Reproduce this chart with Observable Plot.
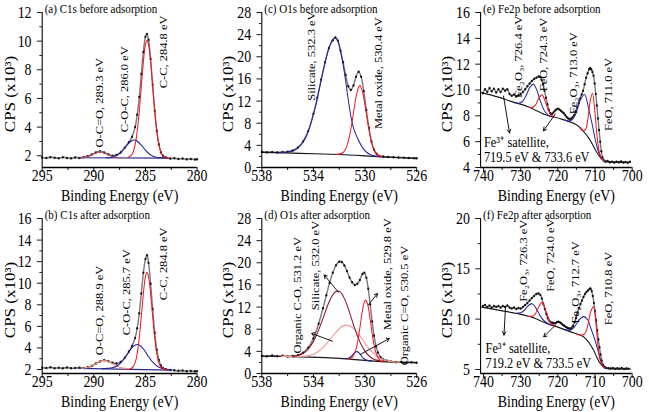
<!DOCTYPE html>
<html><head><meta charset="utf-8">
<script src="https://cdn.jsdelivr.net/npm/d3@7"></script>
<script src="https://cdn.jsdelivr.net/npm/@observablehq/plot@0.6"></script>
<style>
html,body{margin:0;padding:0;background:#fff;overflow:hidden;}
#wrap{position:relative;width:792px;height:412px;transform:scaleX(0.8194);transform-origin:0 0;}
.panel{position:absolute;}
</style></head><body><div id="wrap"></div>
<script>
// ---------------- DATA (binding energy eV, CPS x10^3) ----------------
// (a) C1s before adsorption
const aExp = [[295,1.88],[294.6,1.84],[294.2,1.9],[293.8,1.86],[293.4,1.83],[293,1.89],[292.6,1.85],[292.2,1.82],[291.8,1.88],[291.4,1.85],[291,1.9],[290.6,1.97],[290.2,2.08],[289.8,2.22],[289.4,2.3],[289,2.22],[288.6,2.1],[288.2,2.0],[287.8,2.06],[287.4,2.22],[287,2.56],[286.6,2.95],[286.3,3.32],[286,4.0],[285.8,4.87],[285.6,6.1],[285.4,7.7],[285.2,9.25],[285,10.3],[284.85,10.5],[284.7,10.1],[284.5,8.75],[284.3,6.95],[284.1,5.15],[283.9,3.75],[283.7,2.8],[283.5,2.25],[283.3,2.0],[283,1.88],[282.6,1.8],[282.2,1.83],[281.8,1.78],[281.4,1.8],[281,1.75],[280.6,1.78],[280.2,1.73],[280,1.76]];
const aCC = [[286.7,1.88],[286.4,2.01],[286.2,2.25],[286,2.77],[285.8,3.7],[285.6,5.09],[285.45,6.37],[285.3,7.72],[285.15,8.92],[285,9.75],[284.85,10.05],[284.7,9.75],[284.55,8.92],[284.4,7.72],[284.25,6.37],[284.1,5.09],[283.9,3.7],[283.7,2.77],[283.5,2.25],[283.3,2.01],[283,1.87],[282.8,1.85]];
const aCOC = [[288.8,1.86],[288.4,1.88],[288,1.95],[287.6,2.11],[287.2,2.39],[286.8,2.74],[286.4,3.02],[286.1,3.1],[285.8,3.02],[285.4,2.74],[285,2.39],[284.6,2.11],[284.2,1.95],[283.8,1.88],[283.4,1.86],[283,1.85]];
const aOCO = [[291.2,1.87],[290.8,1.91],[290.4,2.0],[290,2.14],[289.7,2.23],[289.4,2.27],[289.1,2.23],[288.8,2.14],[288.4,2.0],[288,1.91],[287.6,1.87]];
const aBase = [[291.5,1.86],[282.8,1.84]];

// (b) C1s after adsorption
const bExp = [[295,2.17],[294.6,2.13],[294.2,2.2],[293.8,2.12],[293.4,2.16],[293,2.11],[292.6,2.18],[292.2,2.12],[291.8,2.14],[291.4,2.17],[291,2.13],[290.6,2.2],[290.2,2.33],[289.8,2.55],[289.4,2.75],[289,2.86],[288.6,2.77],[288.2,2.62],[287.8,2.56],[287.4,2.7],[287,3.09],[286.6,3.67],[286.3,4.18],[286,4.93],[285.8,5.82],[285.6,7.21],[285.4,9.05],[285.2,10.96],[285,12.25],[284.85,12.6],[284.7,11.9],[284.5,9.96],[284.3,7.6],[284.1,5.4],[283.9,3.83],[283.7,2.88],[283.5,2.37],[283.3,2.13],[283,2.02],[282.6,1.95],[282.2,1.92],[281.8,1.88],[281.4,1.9],[281,1.85],[280.6,1.87],[280.2,1.83],[280,1.84]];
const bCC = [[286.7,2.02],[286.5,2.04],[286.2,2.23],[286,2.64],[285.8,3.48],[285.6,4.92],[285.45,6.38],[285.3,8.0],[285.15,9.52],[285,10.6],[284.85,11.0],[284.7,10.6],[284.55,9.52],[284.4,8.0],[284.25,6.38],[284.1,4.92],[283.9,3.48],[283.7,2.64],[283.5,2.23],[283.2,2.04],[282.9,1.98]];
const bCOC = [[289.2,2.08],[288.7,2.1],[288.2,2.16],[287.7,2.36],[287.2,2.82],[286.8,3.35],[286.4,3.91],[286.1,4.21],[285.8,4.32],[285.5,4.21],[285.2,3.91],[284.8,3.34],[284.4,2.8],[283.9,2.33],[283.4,2.1],[282.9,2.0],[282.5,1.97]];
const bOCO = [[291.2,2.11],[290.7,2.17],[290.2,2.33],[289.8,2.54],[289.4,2.74],[289,2.83],[288.6,2.74],[288.2,2.54],[287.8,2.33],[287.3,2.15],[286.8,2.09]];
const bBase = [[291.5,2.1],[282.5,1.95]];

// (c) O1s before adsorption
const cExp = [[538,2.82],[537.6,2.75],[537.2,2.8],[536.8,2.72],[536.4,2.78],[536,2.85],[535.6,3.05],[535.2,3.6],[534.8,4.7],[534.4,6.6],[534,9.7],[533.7,12.6],[533.4,15.9],[533.1,19.0],[532.8,21.6],[532.5,23.0],[532.3,23.5],[532.1,22.9],[531.9,21.1],[531.7,19.0],[531.5,16.7],[531.3,14.7],[531.1,14.0],[530.9,14.8],[530.7,16.4],[530.5,17.3],[530.3,16.4],[530.1,13.8],[529.9,10.4],[529.7,7.2],[529.5,4.7],[529.3,3.2],[529.1,2.45],[528.9,2.1],[528.6,1.98],[528.2,1.9],[527.8,1.85],[527.4,1.8],[527,1.76],[526.6,1.7],[526.2,1.68],[526,1.66]];
const cSilicate = [[536.6,2.7],[536,2.8],[535.5,3.1],[535,4.0],[534.5,5.9],[534,9.6],[533.7,12.45],[533.4,15.75],[533.1,18.9],[532.8,21.5],[532.5,23.1],[532.3,23.35],[532.1,22.75],[531.9,21.0],[531.7,18.6],[531.5,15.6],[531.3,12.2],[531.1,9.3],[530.9,7.2],[530.7,5.9],[530.5,4.9],[530.3,4.0],[530.1,3.3],[529.9,2.8],[529.6,2.35],[529.2,2.05],[528.8,1.95]];
const cOxide = [[532.2,2.36],[531.9,2.48],[531.7,2.7],[531.5,3.35],[531.3,4.75],[531.1,6.9],[530.9,9.8],[530.7,12.7],[530.5,14.5],[530.4,14.8],[530.3,14.45],[530.1,12.6],[529.9,9.7],[529.7,6.8],[529.5,4.55],[529.3,3.1],[529.1,2.4],[528.9,2.1],[528.7,1.95]];
const cBase = [[538,2.75],[535,2.55],[532,2.35],[530,2.1],[529,1.95],[528,1.85],[526,1.65]];

// (d) O1s after adsorption
const dExp = [[538,3.2],[537.6,3.1],[537.2,3.25],[536.8,3.12],[536.4,3.2],[536,3.08],[535.6,3.18],[535.2,3.3],[534.8,3.74],[534.4,4.67],[534,6.36],[533.6,8.97],[533.26,11.8],[533,14.15],[532.75,16.34],[532.5,18.2],[532.25,19.56],[532,20.2],[531.8,20.15],[531.6,19.5],[531.4,18.5],[531.2,17.35],[531,16.5],[530.8,16.0],[530.6,16.2],[530.4,16.9],[530.2,17.98],[530.05,18.2],[529.9,17.3],[529.75,15.3],[529.6,12.46],[529.45,9.4],[529.3,6.8],[529.15,4.9],[529,3.8],[528.8,2.93],[528.6,2.55],[528.3,2.3],[528,2.15],[527.6,2.05],[527.2,2.08],[526.8,1.98],[526.4,2.02],[526,1.96]];
const dSilicate = [[535.6,3.05],[535.2,3.25],[534.8,3.63],[534.4,4.4],[534,5.8],[533.6,7.85],[533.2,10.36],[532.8,12.85],[532.5,14.2],[532.25,14.8],[532.1,14.9],[531.9,14.7],[531.7,14.0],[531.5,13.0],[531.3,11.75],[531.1,10.3],[530.9,8.86],[530.7,7.5],[530.5,6.28],[530.3,5.23],[530.1,4.37],[529.9,3.7],[529.7,3.2],[529.5,2.84],[529.3,2.57],[529,2.36],[528.7,2.17]];
const dOrgCO = [[536.5,3.1],[536,3.08],[535.5,3.06],[535,3.1],[534.5,3.16],[534,3.48],[533.5,4.2],[533,5.35],[532.5,6.8],[532,8.1],[531.7,8.6],[531.4,8.75],[531.1,8.5],[530.8,7.97],[530.5,7.15],[530.3,6.45],[530,5.5],[529.8,4.8],[529.5,4.03],[529.3,3.52],[529,3.0],[528.8,2.72],[528.3,2.3],[527.8,2.1],[527.3,2.05]];
const dOxide = [[531.3,2.65],[531,2.9],[530.8,3.66],[530.6,5.4],[530.4,8.25],[530.2,11.37],[530.05,12.93],[529.95,13.25],[529.8,12.5],[529.6,9.73],[529.4,6.5],[529.2,4.1],[529,2.85],[528.8,2.34],[528.6,2.14]];
const dOrgCdO = [[531.5,2.7],[531.3,2.76],[531.1,3.02],[530.9,3.53],[530.75,3.87],[530.63,3.95],[530.5,3.79],[530.3,3.22],[530.1,2.69],[529.9,2.42],[529.7,2.31],[529.5,2.27]];
const dBase = [[538,3.15],[535,3.0],[533,2.85],[532,2.75],[531,2.55],[530,2.37],[529,2.2],[528,2.08],[526,1.95]];

// (e) Fe2p before adsorption
const eExp = [[740.2,9.75],[739.6,10.05],[739,9.85],[738.4,10.15],[737.8,9.9],[737.2,10.1],[736.6,9.8],[736,10.05],[735.4,9.85],[734.8,10.1],[734.2,9.95],[733.6,10.05],[733,9.7],[732.4,9.55],[731.8,9.65],[731.2,9.5],[730.6,9.6],[730,9.7],[729.4,9.85],[728.8,10.05],[728.2,10.3],[727.6,10.5],[727,10.7],[726.4,10.85],[725.8,10.95],[725.2,11.05],[724.8,11.0],[724.4,10.8],[724,10.45],[723.6,9.95],[723.2,9.4],[722.8,8.9],[722.4,8.45],[722,8.2],[721.6,8.15],[721.2,8.25],[720.8,8.4],[720.4,8.5],[720,8.55],[719.6,8.5],[719.2,8.4],[718.8,8.3],[718.4,8.2],[718,8.05],[717.6,7.9],[717.2,7.8],[716.8,7.75],[716.4,7.8],[716,7.9],[715.6,8.05],[715.2,8.35],[714.8,8.65],[714.4,9.0],[714,9.35],[713.6,9.65],[713.2,9.95],[712.8,10.45],[712.4,10.95],[712,11.3],[711.6,11.6],[711.3,11.7],[711,11.6],[710.7,11.4],[710.4,11.1],[710.1,10.5],[709.8,9.7],[709.5,8.8],[709.2,7.8],[708.9,6.9],[708.6,6.0],[708.3,5.25],[708,4.8],[707.6,4.55],[707.2,4.45],[706.6,4.5],[706,4.4],[705.4,4.45],[704.8,4.38],[704.2,4.45],[703.6,4.4],[703,4.47],[702.4,4.38],[701.8,4.42],[701.2,4.36],[700.6,4.44]];
const eFe2O3a = [[731.5,9.01],[730.5,8.97],[729.5,9.11],[728.5,9.6],[727.5,10.22],[726.6,10.45],[725.7,10.02],[724.7,9.15],[723.7,8.43],[722.7,8.07],[721.7,7.93]];
const eFeOa = [[727.6,8.66],[726.8,8.65],[726,8.85],[725.2,9.33],[724.3,9.62],[723.4,9.13],[722.6,8.44],[721.8,8.06],[721,7.9]];
const eFe2O3b = [[718,7.66],[717,7.6],[716,7.75],[715,8.3],[714,9.2],[712.8,9.65],[711.8,8.65],[710.8,7.4],[709.8,6.0],[708.8,5.0],[707.8,4.6],[707,4.5]];
const eFeOb = [[714,7.04],[713.2,6.83],[712.5,6.97],[711.9,7.8],[711.3,9.14],[710.7,9.75],[710.1,8.5],[709.5,6.6],[708.9,5.26],[708.2,4.67],[707.5,4.5]];
const eBase = [[740.5,9.8],[736,9.45],[732.4,9.1],[728,8.7],[723.5,8.1],[719,7.75],[714.7,7.25],[712,6.4],[710.5,5.7],[709.6,5.2],[708.5,4.75],[707.5,4.5],[705,4.42],[700.5,4.4]];

// (f) Fe2p after adsorption
const fExp = [[740.2,11.3],[739.6,11.4],[739,11.2],[738.4,11.35],[737.8,11.15],[737.2,11.3],[736.6,11.2],[736,11.3],[735.4,11.15],[734.8,11.3],[734.2,11.2],[733.6,11.35],[733,11.15],[732.4,11.05],[731.8,11.15],[731.2,11.0],[730.6,11.1],[730,11.05],[729.4,11.2],[728.8,11.4],[728.2,11.6],[727.6,11.85],[727,12.1],[726.4,12.3],[725.8,12.5],[725.2,12.55],[724.7,12.4],[724.3,12.05],[723.9,11.5],[723.5,11.0],[723.1,10.5],[722.7,10.1],[722.3,9.85],[721.9,9.7],[721.5,9.65],[721.1,9.6],[720.7,9.6],[720.3,9.7],[719.9,9.75],[719.5,9.7],[719.1,9.6],[718.7,9.45],[718.3,9.35],[717.9,9.25],[717.5,9.15],[717.1,9.1],[716.7,9.05],[716.3,9.15],[715.9,9.35],[715.5,9.7],[715.1,10.15],[714.7,10.65],[714.3,11.1],[713.9,11.5],[713.5,11.85],[713.1,12.2],[712.7,12.5],[712.3,12.7],[711.9,12.85],[711.5,13.0],[711.2,13.05],[710.9,12.8],[710.6,12.3],[710.3,11.6],[710,10.8],[709.7,9.9],[709.4,8.9],[709.1,8.0],[708.8,7.2],[708.5,6.5],[708.2,5.9],[707.8,5.45],[707.4,5.25],[707,5.15],[706.4,5.12],[705.8,5.1],[705.2,5.14],[704.6,5.06],[704,5.12],[703.4,5.08],[702.8,5.14],[702.2,5.05],[701.6,5.1],[701,5.06]];
const fFe2O3a = [[731,10.59],[730,10.64],[729,10.89],[728,11.33],[726.9,11.53],[725.8,11.04],[724.8,10.36],[723.8,9.86],[722.8,9.58],[721.8,9.4]];
const fFeOa = [[727.8,10.28],[727,10.28],[726.2,10.45],[725.4,11.02],[724.24,11.66],[723.1,10.68],[722.3,9.87],[721.5,9.46],[720.7,9.29]];
const fFe2O3b = [[718.5,9.0],[717.5,8.91],[716.5,8.94],[715.5,9.25],[714.3,9.91],[713.1,10.25],[712,9.95],[711.3,9.3],[710.6,8.55],[710,7.9],[709.1,6.75],[708.2,5.6],[707.5,5.2],[706.8,5.1]];
const fFeOb = [[714.9,8.5],[714,8.42],[713.2,8.44],[712.5,8.7],[711.9,9.45],[711.2,10.7],[710.4,11.22],[709.8,9.7],[709.2,7.4],[708.6,5.94],[708,5.35],[707.4,5.15]];
const fBase = [[740.5,11.2],[736,10.9],[731,10.56],[727,10.2],[723,9.57],[720,9.2],[716.6,8.74],[713.1,8.25],[711.5,7.6],[710.4,6.92],[709.5,6.2],[708.6,5.6],[707.6,5.2],[706.8,5.1],[703,5.05],[700.5,5.05]];

// axis ticks
const xTicksC1s = [295, 290, 285, 280], xMinorC1s = [292.5, 287.5, 282.5];
const xTicksO1s = [538, 534, 530, 526], xMinorO1s = [536, 532, 528];
const xTicksFe = [740, 730, 720, 710, 700], xMinorFe = [735, 725, 715, 705];
const yTicksA = [2, 4, 6, 8, 10, 12], yMinorA = [3, 5, 7, 9, 11];
const yTicksB = [2, 4, 6, 8, 10, 12, 14, 16], yMinorB = [3, 5, 7, 9, 11, 13, 15];
const yTicksO = [0, 4, 8, 12, 16, 20, 24, 28], yMinorO = [2, 6, 10, 14, 18, 22, 26];
const yTicksE = [4, 6, 8, 10, 12, 14, 16], yMinorE = [5, 7, 9, 11, 13, 15];
const yTicksF = [5, 10, 15, 20], yMinorF = [7.5, 12.5, 17.5];

// peak labels: [text, eV, CPS]
const aNotes = [["O-C=O, 289.3 eV", 289.4, 2.58], ["C-O-C, 286.0 eV", 287.0, 3.64], ["C-C, 284.8 eV", 283.27, 6.71]];
const bNotes = [["O-C=O, 288.9 eV", 289.4, 3.33], ["C-O-C, 285.7 eV", 286.83, 5.18], ["C-C, 284.8 eV", 283.27, 8.43]];
const cNotes = [["Silicate, 532.3 eV", 534.1, 12.05], ["Metal oxide, 530.4 eV", 528.93, 6.94]];
const dNotes = [["Organic C-O, 531.2 eV", 535.24, 3.61], ["Silicate, 532.0 eV", 533.82, 11.43], ["Metal oxide, 529.8 eV", 528.25, 7.82], ["Organic C=O, 530.5 eV", 526.96, 1.5]];
const eNotes = [["Fe\u2082O\u2083, 726.4 eV", 730.52, 9.39], ["FeO, 724.3 eV", 723.8, 9.91], ["Fe\u2082O\u2083, 713.0 eV", 715.75, 8.12], ["FeO, 711.0 eV", 706.36, 6.83]];
const fNotes = [["Fe\u2082O\u2083, 726.3 eV", 729.18, 11.72], ["FeO, 724.0 eV", 722.02, 12.71], ["Fe\u2082O\u2083, 712.7 eV", 715.31, 9.57], ["FeO, 710.8 eV", 706.36, 9.4]];
const eSat = [["Fe\u00B3\u207A satellite,", 739.9, 5.98], ["719.5 eV & 733.6 eV", 739.9, 4.77]];
const fSat = [["Fe\u00B3\u207A satellite,", 739.46, 7.09], ["719.2 eV & 733.5 eV", 739.46, 5.6]];
// pointer lines: [from eV, from CPS, to eV, to CPS]
const dArrows = [[532.52, 5.83, 534.13, 7.23], [532.06, 14.68, 533.17, 17.8], [529.73, 12.46, 529.03, 14.45], [530.37, 3.43, 528.12, 6.32]];
const eArrows = [[734.63, 9.53, 733.0, 6.67], [720.7, 8.14, 723.9, 6.83]];
const fArrows = [[734.1, 11.16, 734.5, 8.41], [720.7, 9.4, 723.8, 8.24]];

// ---------------- DRAWING ----------------
const FONT = "'Liberation Serif', 'Times New Roman', serif";
const RED = "#f0141e", BLUE = "#23239c", NAVY = "#2a2a8c", BLACK = "#151515",
      DARKRED = "#8c1022", SALMON = "#f5938c", PINK = "#c0505c", ORANGE = "#f0957c";
const fx = d => d[0], fy = d => d[1];
const wrap = document.getElementById("wrap");

function panel(o) {
  const curveMarks = o.curves.map(c => Plot.line(c[0], {x: fx, y: fy, stroke: c[1], strokeWidth: c[2] || 1.2, curve: "catmull-rom"}));
  const marks = [
    Plot.line(o.exp, {x: fx, y: fy, stroke: "#7a7a7a", strokeWidth: 1.7, curve: "catmull-rom"}),
    Plot.dot(o.exp, {x: fx, y: fy, r: 1.25, fill: "#111"}),
    ...curveMarks,
    Plot.ruleX([o.xDomain[0]], {stroke: "#000", strokeWidth: 1.3}),
    Plot.ruleY([o.yDomain[0]], {stroke: "#000", strokeWidth: 1.3}),
    Plot.axisY({ticks: o.yTicks, tickSize: 6, tickPadding: 7, fontSize: 17, label: null}),
    Plot.axisY({ticks: o.yMinor, tickSize: 3, tickFormat: () => "", label: null}),
    Plot.axisX({ticks: o.xTicks, tickSize: 5, tickPadding: -4, fontSize: 17, label: null}),
    Plot.axisX({ticks: o.xMinor, tickSize: 3, tickFormat: () => "", label: null}),
    Plot.text([o.title], {frameAnchor: "top-left", textAnchor: "start", lineAnchor: "bottom", dx: 3, dy: 0, fontSize: 13.5}),
    Plot.text(["CPS (x10\u00B3)"], {frameAnchor: "left", textAnchor: "middle", lineAnchor: "middle", dx: o.yLabelDx, dy: 4, rotate: -90, fontSize: 17}),
    Plot.text(["Binding Energy (eV)"], {frameAnchor: "bottom", textAnchor: "middle", lineAnchor: "bottom", dy: 33, fontSize: 17}),
    Plot.text(o.notes, {x: d => d[1], y: d => d[2], text: d => d[0], rotate: -90, textAnchor: "start", fontSize: 12.5})
  ];
  if (o.arrows) marks.push(Plot.arrow(o.arrows, {x1: d => d[0], y1: d => d[1], x2: d => d[2], y2: d => d[3], stroke: "#000", strokeWidth: 1, headLength: 6}));
  if (o.sat) marks.push(Plot.text(o.sat, {x: d => d[1], y: d => d[2], text: d => d[0], textAnchor: "start", fontSize: 15}));
  const svg = Plot.plot({
    width: 264, height: 206,
    marginLeft: o.ml, marginRight: o.mr, marginTop: 12, marginBottom: 39,
    x: {domain: o.xDomain, label: null},
    y: {domain: o.yDomain, label: null},
    style: {fontFamily: FONT, fontSize: "17px", color: "#000", background: "transparent", overflow: "visible"},
    marks
  });
  const div = document.createElement("div");
  div.className = "panel";
  div.style.left = o.left + "px";
  div.style.top = o.top + "px";
  div.append(svg);
  wrap.append(div);
}

panel({left: 0, top: 0, ml: 51, mr: 24, xDomain: [295, 280], yDomain: [1.18, 12], xTicks: xTicksC1s, xMinor: xMinorC1s, yTicks: yTicksA, yMinor: yMinorA, yLabelDx: -39,
  title: "(a) C1s before adsorption", exp: aExp, notes: aNotes,
  curves: [[aBase, NAVY], [aOCO, PINK], [aCOC, BLUE], [aCC, RED]]});
panel({left: 0, top: 206, ml: 51, mr: 24, xDomain: [295, 280], yDomain: [1.63, 16], xTicks: xTicksC1s, xMinor: xMinorC1s, yTicks: yTicksB, yMinor: yMinorB, yLabelDx: -39,
  title: "(b) C1s after adsorption", exp: bExp, notes: bNotes,
  curves: [[bBase, NAVY], [bOCO, ORANGE], [bCOC, BLUE], [bCC, RED]]});
panel({left: 264, top: 0, ml: 55, mr: 20, xDomain: [538, 526], yDomain: [0, 28], xTicks: xTicksO1s, xMinor: xMinorO1s, yTicks: yTicksO, yMinor: yMinorO, yLabelDx: -41,
  title: "(c) O1s before adsorption", exp: cExp, notes: cNotes,
  curves: [[cBase, BLACK], [cSilicate, BLUE], [cOxide, RED]]});
panel({left: 264, top: 206, ml: 55, mr: 20, xDomain: [538, 526], yDomain: [0, 28], xTicks: xTicksO1s, xMinor: xMinorO1s, yTicks: yTicksO, yMinor: yMinorO, yLabelDx: -41,
  title: "(d) O1s after adsorption", exp: dExp, notes: dNotes, arrows: dArrows,
  curves: [[dBase, BLACK], [dOrgCO, SALMON], [dSilicate, DARKRED], [dOrgCdO, BLUE], [dOxide, RED]]});
panel({left: 528, top: 0, ml: 58, mr: 21, xDomain: [740.8, 700], yDomain: [4, 16], xTicks: xTicksFe, xMinor: xMinorFe, yTicks: yTicksE, yMinor: yMinorE, yLabelDx: -40,
  title: "(e) Fe2p before adsorption", exp: eExp, notes: eNotes, arrows: eArrows, sat: eSat,
  curves: [[eBase, BLACK], [eFe2O3a, BLUE], [eFeOa, RED], [eFe2O3b, BLUE], [eFeOb, RED]]});
panel({left: 528, top: 206, ml: 58, mr: 21, xDomain: [740.8, 700], yDomain: [4.6, 20], xTicks: xTicksFe, xMinor: xMinorFe, yTicks: yTicksF, yMinor: yMinorF, yLabelDx: -40,
  title: "(f) Fe2p after adsorption", exp: fExp, notes: fNotes, arrows: fArrows, sat: fSat,
  curves: [[fBase, BLACK], [fFe2O3a, BLUE], [fFeOa, RED], [fFe2O3b, BLUE], [fFeOb, RED]]});
</script></body></html>
